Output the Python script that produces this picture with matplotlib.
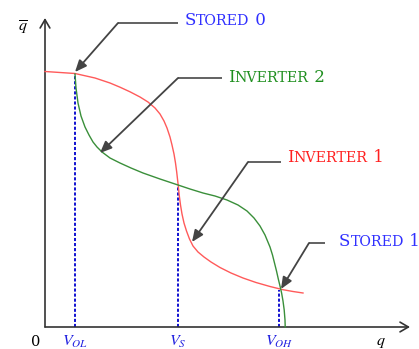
import matplotlib
matplotlib.use("Agg")
import matplotlib.pyplot as plt
from matplotlib.offsetbox import TextArea, HPacker, AnnotationBbox

plt.rcParams["mathtext.fontset"] = "stix"

# Transfer curves of the two cross-coupled inverters
inv1_x = [0.00, 0.15, 0.30, 0.50, 0.65, 0.75, 0.85, 0.95, 1.03, 1.10, 1.15, 1.19,
          1.22, 1.25, 1.27, 1.29, 1.305, 1.317, 1.326, 1.333, 1.342, 1.355, 1.37,
          1.39, 1.415, 1.445, 1.48, 1.53, 1.59, 1.66, 1.75, 1.86, 1.98, 2.11, 2.25,
          2.38, 2.48, 2.58]
inv1_y = [2.555, 2.545, 2.535, 2.49, 2.44, 2.398, 2.352, 2.30, 2.25, 2.19, 2.13, 2.06,
          1.99, 1.90, 1.82, 1.73, 1.64, 1.55, 1.47, 1.41, 1.32, 1.22, 1.13,
          1.04, 0.96, 0.88, 0.81, 0.75, 0.70, 0.65, 0.595, 0.54, 0.49, 0.445, 0.405,
          0.373, 0.355, 0.34]

inv2_x = [0.30, 0.31, 0.33, 0.36, 0.40, 0.44, 0.48, 0.52, 0.57, 0.65, 0.75, 0.86,
          0.98, 1.15, 1.33, 1.45, 1.58, 1.70, 1.82, 1.93, 2.02, 2.09, 2.15, 2.20,
          2.25, 2.275, 2.295, 2.315, 2.333, 2.35, 2.366, 2.38, 2.392, 2.40, 2.402]
inv2_y = [2.53, 2.39, 2.24, 2.11, 2.00, 1.92, 1.85, 1.80, 1.75, 1.69, 1.64, 1.59,
          1.54, 1.48, 1.42, 1.38, 1.34, 1.31, 1.27, 1.22, 1.16, 1.09, 1.01, 0.92,
          0.80, 0.72, 0.64, 0.56, 0.48, 0.41, 0.34, 0.26, 0.17, 0.07, 0.00]

# Characteristic voltages and the height of the curve above each
v_ticks = [0.30, 1.33, 2.34]
v_heights = [2.535, 1.41, 0.37]
v_labels = [r"$V_{OL}$", r"$V_{S}$", r"$V_{OH}$"]

# Callouts: (big initial, small-caps rest, trailing), text anchor, elbow, tip, colour
callouts = [
    (("S", "TORED", " 0"), (1.40, 3.065), (0.73, 3.04), (1.33, 3.04), (0.30, 2.55), "#3030ff"),
    (("I", "NVERTER", " 2"), (1.83, 2.495), (1.33, 2.49), (1.77, 2.49), (0.55, 1.74), "#1f8f1f"),
    (("I", "NVERTER", " 1"), (2.42, 1.695), (2.03, 1.65), (2.36, 1.65), (1.47, 0.85), "#ff2020"),
    (("S", "TORED", " 1"), (2.94, 0.855), (2.64, 0.84), (2.80, 0.84), (2.36, 0.38), "#3030ff"),
]

fig = plt.figure(figsize=(4.19, 3.49), dpi=100)
ax = fig.add_axes([0, 0, 1, 1])
ax.set_xlim(-0.45, 3.74)
ax.set_ylim(-0.22, 3.27)
ax.axis("off")

# Axes with open arrowheads
axis_kw = dict(arrowstyle="->,head_length=0.6,head_width=0.35", color="#333333",
               lw=1.2, shrinkA=0, shrinkB=0)
ax.annotate("", xy=(0, 3.09), xytext=(0, 0), arrowprops=axis_kw)
ax.annotate("", xy=(3.65, 0), xytext=(0, 0), arrowprops=axis_kw)

# Curves
ax.plot(inv1_x, inv1_y, color="#ff5a5a", lw=1.0, zorder=3)
ax.plot(inv2_x, inv2_y, color="#3a8f3a", lw=1.0, zorder=3)

# Dashed drop lines and tick labels
for xv, yv, lab in zip(v_ticks, v_heights, v_labels):
    ax.plot([xv, xv], [0, yv], color="#1010d0", lw=1.4,
            linestyle=(0, (1.6, 1.0)), zorder=2)
    ax.text(xv, -0.15, lab, color="#2020e0", fontsize=11.5, ha="center", va="center")

ax.text(-0.09, -0.15, "0", fontsize=10.5, ha="center", va="center",
        family="DejaVu Serif")
ax.text(3.36, -0.15, r"$q$", fontsize=11.5, ha="center", va="center")
ax.text(-0.22, 2.99, r"$\overline{q}$", fontsize=11.5, ha="center", va="center")

# Callout leaders, arrows and small-caps labels
for parts, txt_xy, elbow, end, tip, col in callouts:
    ax.plot([elbow[0], end[0]], [elbow[1], end[1]], color="#555555", lw=1.3,
            solid_capstyle="butt", zorder=4)
    ax.annotate("", xy=tip, xytext=elbow,
                arrowprops=dict(arrowstyle="-|>,head_length=0.7,head_width=0.3",
                                color="#444444", lw=1.3, shrinkA=0, shrinkB=0),
                zorder=4)
    big, small, tail = parts
    tp = dict(color=col, family="DejaVu Serif")
    boxes = [TextArea(big, textprops=dict(size=12, **tp)),
             TextArea(small, textprops=dict(size=10.2, **tp)),
             TextArea(tail, textprops=dict(size=12, **tp))]
    pack = HPacker(children=boxes, align="baseline", pad=0, sep=0)
    ab = AnnotationBbox(pack, txt_xy, xycoords="data", frameon=False,
                        box_alignment=(0, 0.5), pad=0)
    ax.add_artist(ab)

fig.savefig("out.png", dpi=100)
